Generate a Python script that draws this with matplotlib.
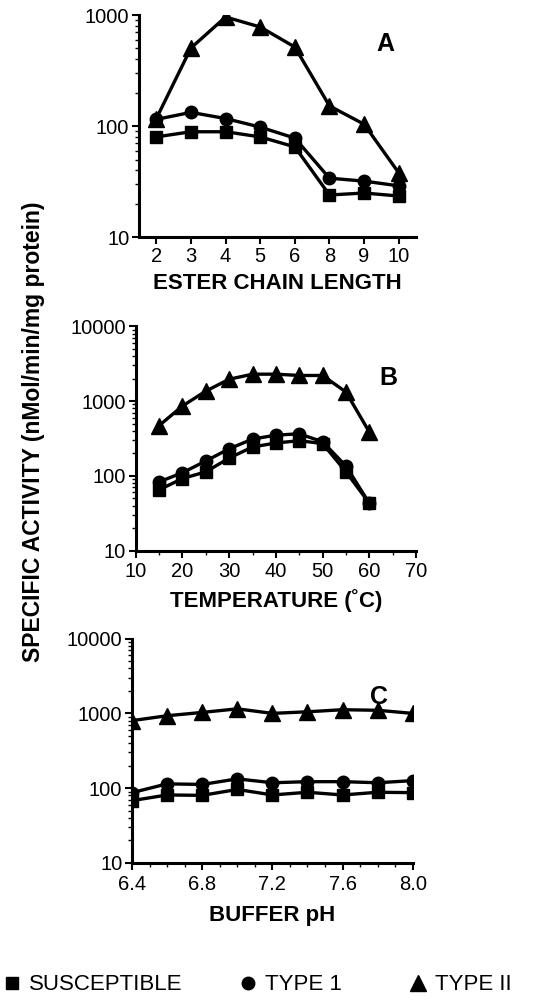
import matplotlib
matplotlib.use("Agg")
import matplotlib.pyplot as plt
from matplotlib.lines import Line2D
from matplotlib.ticker import LogLocator, MultipleLocator, NullFormatter, FixedLocator

plt.rcParams['font.family'] = ['Liberation Sans', 'DejaVu Sans']

# Panel A: ester chain length
chain_labels = ['2', '3', '4', '5', '6', '8', '9', '10']
chain_susceptible = [80, 89, 89, 80, 65, 24, 25, 23.5]
chain_type1 = [115, 133, 117, 98, 78, 34, 32, 29]
chain_type2 = [117, 505, 960, 780, 515, 152, 104, 38]

# Panel B: temperature
temp_c = [15, 20, 25, 30, 35, 40, 45, 50, 55, 60]
temp_susceptible = [65, 92, 113, 173, 243, 275, 295, 270, 113, 43]
temp_type1 = [83, 110, 158, 230, 310, 350, 365, 285, 135, 43]
temp_type2 = [470, 860, 1360, 1960, 2290, 2290, 2200, 2200, 1320, 385]

# Panel C: buffer pH
ph_values = [6.4, 6.6, 6.8, 7.0, 7.2, 7.4, 7.6, 7.8, 8.0]
ph_susceptible = [68, 81, 80, 96, 81, 88, 81, 88, 87]
ph_type1 = [87, 114, 112, 133, 118, 122, 122, 118, 126]
ph_type2 = [800, 930, 1030, 1150, 1000, 1050, 1120, 1100, 1000]

series_names = ['SUSCEPTIBLE', 'TYPE 1', 'TYPE II']
markers = ['s', 'o', '^']
msizes = [9, 9, 11]

fig = plt.figure(figsize=(5.41, 10.01), dpi=100)
axA = fig.add_axes([0.257, 0.763, 0.512, 0.222])
axB = fig.add_axes([0.251, 0.450, 0.518, 0.224])
axC = fig.add_axes([0.244, 0.138, 0.519, 0.224])


def style(ax, ylim, xlabel, tag, tagpos, xpad=2, labelpad=5):
    ax.set_yscale('log')
    ax.set_ylim(*ylim)
    for s in ['top', 'right']:
        ax.spines[s].set_visible(False)
    for s in ['left', 'bottom']:
        ax.spines[s].set_linewidth(2.2)
    ax.yaxis.set_major_locator(LogLocator(base=10))
    ax.yaxis.set_minor_locator(LogLocator(base=10, subs=range(2, 10)))
    ax.yaxis.set_minor_formatter(NullFormatter())
    ax.tick_params(axis='both', which='major', length=5, width=1.5, labelsize=14.5, pad=2)
    ax.tick_params(axis='x', which='major', pad=xpad)
    ax.tick_params(axis='both', which='minor', length=3, width=1)
    ax.set_xlabel(xlabel, fontsize=16, fontweight='bold', labelpad=labelpad)
    ax.text(tagpos[0], tagpos[1], tag, transform=ax.transAxes, fontsize=18,
            fontweight='bold', ha='center', va='center')


def draw(ax, x, ys):
    for y, m, ms in zip(ys, markers, msizes):
        ax.plot(x, y, color='black', marker=m, markersize=ms, linewidth=2.4)


idx = list(range(len(chain_labels)))
draw(axA, idx, [chain_susceptible, chain_type1, chain_type2])
style(axA, (10, 1000), 'ESTER CHAIN LENGTH', 'A', (0.89, 0.87))
axA.set_xlim(-0.5, 7.5)
axA.set_xticks(idx)
axA.set_xticklabels(chain_labels)
axA.set_yticks([10, 100, 1000])
axA.set_yticklabels(['10', '100', '1000'])

draw(axB, temp_c, [temp_susceptible, temp_type1, temp_type2])
style(axB, (10, 10000), 'TEMPERATURE (˚C)', 'B', (0.9, 0.77), xpad=3, labelpad=6)
axB.set_xlim(10, 70)
axB.xaxis.set_major_locator(MultipleLocator(10))
axB.xaxis.set_minor_locator(MultipleLocator(5))
axB.set_yticks([10, 100, 1000, 10000])
axB.set_yticklabels(['10', '100', '1000', '10000'])

draw(axC, ph_values, [ph_susceptible, ph_type1, ph_type2])
style(axC, (10, 10000), 'BUFFER pH', 'C', (0.88, 0.74), xpad=4, labelpad=8)
axC.set_xlim(6.4, 8.0)
axC.set_xticks([6.4, 6.8, 7.2, 7.6, 8.0])
axC.set_xticklabels(['6.4', '6.8', '7.2', '7.6', '8.0'])
axC.xaxis.set_minor_locator(FixedLocator([6.5, 6.6, 6.7, 6.9, 7.0, 7.1, 7.3, 7.4, 7.5, 7.7, 7.8, 7.9]))
axC.set_yticks([10, 100, 1000, 10000])
axC.set_yticklabels(['10', '100', '1000', '10000'])

fig.text(0.062, 0.569, 'SPECIFIC ACTIVITY (nMol/min/mg protein)', rotation=90,
         fontsize=16.5, fontweight='bold', ha='center', va='center')

# legend entries spread along the bottom, one per series
legend_x = [0.008, 0.444, 0.758]
for name, m, ms, lx in zip(series_names, markers, msizes, legend_x):
    h = Line2D([], [], color='black', marker=m, linestyle='none', markersize=ms)
    fig.legend([h], [name], loc='center left', bbox_to_anchor=(lx, 0.016),
               frameon=False, fontsize=16, handlelength=0.7, handletextpad=0.4,
               borderpad=0, borderaxespad=0)

fig.savefig('out.png', dpi=100)
